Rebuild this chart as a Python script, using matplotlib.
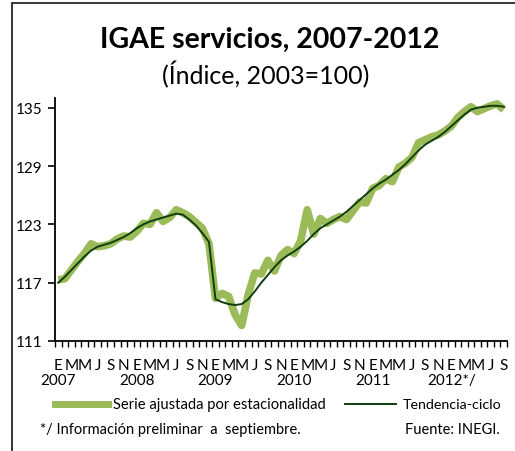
import matplotlib
matplotlib.use("Agg")
import matplotlib.pyplot as plt
from matplotlib.patches import Rectangle
from matplotlib.lines import Line2D
import numpy as np

plt.rcParams['font.family'] = ['Lato', 'DejaVu Sans']

month_letters = ["E", "F", "M", "A", "M", "J", "J", "A", "S", "O", "N", "D"]
years = ["2007", "2008", "2009", "2010", "2011", "2012*/"]
n_months = 69  # Jan 2007 - Sep 2012

serie_ajustada = [
    117.3, 117.4, 118.3, 119.2, 120.0, 121.0, 120.7, 120.8, 121.0, 121.5, 121.8, 121.7,
    122.3, 123.1, 123.0, 124.2, 123.3, 123.7, 124.5, 124.2, 123.8, 123.2, 122.6, 121.0,
    115.4, 115.9, 115.6, 113.7, 112.6, 115.8, 118.0, 117.9, 119.3, 118.2, 119.8, 120.4,
    120.0, 121.3, 124.5, 122.0, 123.6, 123.1, 123.5, 123.8, 123.5, 124.4, 125.3, 125.2,
    126.7, 127.0, 127.7, 127.4, 128.9, 129.3, 129.9, 131.4, 131.7, 132.0, 132.2, 132.6,
    133.1, 134.0, 134.6, 135.1, 134.6, 134.9, 135.2, 135.4, 134.8,
]
tendencia_ciclo = [
    117.0, 117.6, 118.3, 119.0, 119.7, 120.3, 120.7, 120.9, 121.1, 121.4, 121.7, 122.1,
    122.6, 123.0, 123.3, 123.5, 123.7, 123.9, 124.1, 124.0, 123.5, 122.9, 122.1, 121.2,
    115.3, 115.0, 114.8, 114.7, 114.8, 115.3, 116.1, 117.0, 117.8, 118.6, 119.3, 119.8,
    120.2, 120.7, 121.3, 122.0, 122.6, 123.0, 123.4, 123.8, 124.3, 124.9, 125.5, 126.1,
    126.7, 127.2, 127.6, 128.1, 128.6, 129.2, 129.9, 130.6, 131.2, 131.6, 132.0, 132.5,
    133.1, 133.7, 134.3, 134.8, 135.0, 135.1, 135.2, 135.2, 135.1,
]
y_ticks = [111, 117, 123, 129, 135]

W, H = 515, 452
fig = plt.figure(figsize=(W / 100, H / 100), dpi=100)

# outer frame (left and top visible)
fig.patches.append(Rectangle((12 / W, -0.1), 1.2, 1 - 4 / H + 0.1,
                             transform=fig.transFigure, fill=False,
                             edgecolor="#262626", linewidth=1.3))

ax = fig.add_axes([55 / W, 1 - 342 / H, (507 - 55) / W, (342 - 99) / H])
x = np.arange(n_months)
green = "#9BBB59"
dark = "#0F3D0F"
ax.plot(x, serie_ajustada, color=green, linewidth=5.5, solid_joinstyle="round",
        solid_capstyle="butt")
ax.plot(x, tendencia_ciclo, color=dark, linewidth=1.4)

ax.set_xlim(-0.5, n_months - 0.5)
ax.set_ylim(111, 136)
for s in ["top", "right"]:
    ax.spines[s].set_visible(False)
for s in ["left", "bottom"]:
    ax.spines[s].set_linewidth(1.3)
    ax.spines[s].set_color("black")

ax.set_yticks(y_ticks)
ax.set_yticklabels([str(v) for v in y_ticks], fontsize=11)
ax.tick_params(axis="y", direction="out", length=5, width=1.2, pad=4)

major = list(range(0, n_months, 2))
ax.set_xticks(major)
ax.set_xticklabels([month_letters[i % 12] for i in major], fontsize=11)
ax.tick_params(axis="x", which="major", length=0, pad=12)
ax.set_xticks(np.arange(-0.5, n_months, 1.0), minor=True)
ax.tick_params(axis="x", which="minor", direction="out", length=4, width=1.0)

for k, yr in enumerate(years):
    ax.text(12 * k, -0.16, yr, transform=ax.get_xaxis_transform(),
            ha="center", va="center", fontsize=11)

fig.text(270 / W, 1 - 40 / H, "IGAE servicios, 2007-2012", ha="center", va="center",
         fontsize=20.5, fontweight="bold")
fig.text(266 / W, 1 - 75 / H, "(Índice, 2003=100)", ha="center", va="center",
         fontsize=18)

# legend
ly = 1 - 405 / H
fig.add_artist(Line2D([55 / W, 108 / W], [ly, ly], transform=fig.transFigure,
                      color=green, linewidth=5))
fig.text(113 / W, ly, "Serie ajustada por estacionalidad", ha="left", va="center",
         fontsize=10.6)
fig.add_artist(Line2D([345 / W, 396 / W], [ly, ly], transform=fig.transFigure,
                      color=dark, linewidth=1.4))
fig.text(403 / W, ly, "Tendencia-ciclo", ha="left", va="center", fontsize=10.3)

fy = 1 - 430 / H
fig.text(40 / W, fy, "*/ Información preliminar  a  septiembre.", ha="left",
         va="center", fontsize=10.5)
fig.text(405 / W, fy, "Fuente: INEGI.", ha="left", va="center", fontsize=10.5)

fig.savefig("out.png", dpi=100)
